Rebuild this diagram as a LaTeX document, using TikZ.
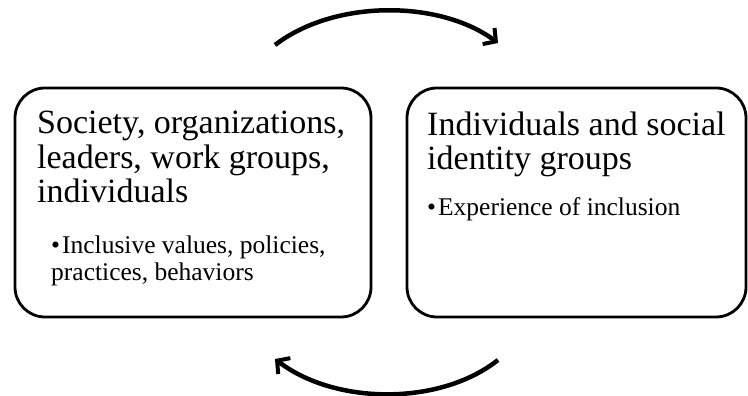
\documentclass[tikz,border=0pt]{standalone}
\usepackage{fontspec}
\setmainfont{Liberation Serif}
\usetikzlibrary{arrows.meta}
\tikzset{
  roundbox/.style={draw=black, line width=2.8pt, rounded corners=30pt, inner sep=0pt},
  headtext/.style={anchor=base west, inner sep=0pt, align=left, font=\fontsize{34}{34.5}\selectfont},
  bullettext/.style={anchor=base west, inner sep=0pt, align=left, font=\fontsize{25.5}{27}\selectfont},
  cyclearrow/.style={line width=4.5pt, -{Straight Barb[length=9pt,width=20pt,line width=4pt]}}
}
\newcommand{\bul}{\textbullet\kern2pt}
\begin{document}
\begin{tikzpicture}[x=1pt,y=1pt]
\useasboundingbox (0,0) rectangle (748,396);
% boxes
\node[roundbox, minimum width=356pt, minimum height=229pt] (left) at (193,193.5) {};
\node[roundbox, minimum width=339pt, minimum height=229pt] (right) at (576.5,193.5) {};
% texts (base anchor = baseline of last line)
\node[headtext] (lhead) at (37,193) {Society, organizations,\\leaders, work groups,\\individuals};
\node[bullettext] (lbul) at (51,115) {\bul Inclusive values, policies,\\practices, behaviors};
\node[headtext] (rhead) at (427,226) {Individuals and social\\identity groups};
\node[bullettext] (rbul) at (427,180) {\bul Experience of inclusion};
% arrows
\coordinate (ts) at (275,351);
\coordinate (te) at (498,353);
\coordinate (bs) at (498,36);
\coordinate (be) at (275,37);
\draw[cyclearrow] (ts) .. controls (335,397) and (440,396) .. (te);
\draw[cyclearrow] (bs) .. controls (440,-10) and (335,-9) .. (be);
\end{tikzpicture}
\end{document}
